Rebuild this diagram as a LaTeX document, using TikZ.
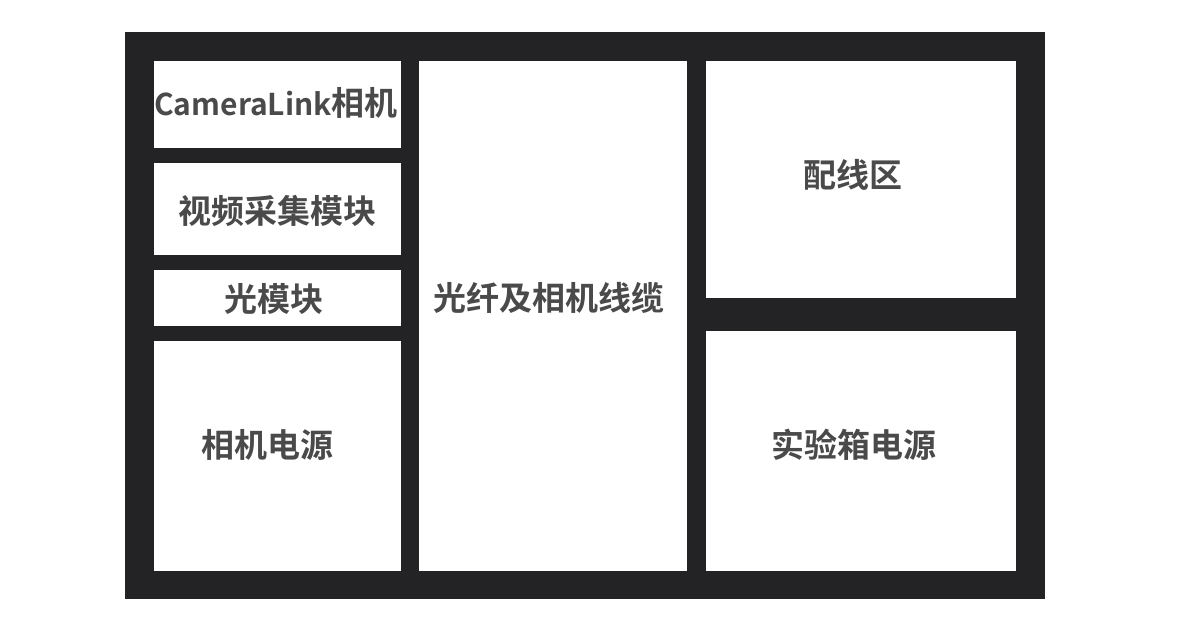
\documentclass[tikz,border=0pt]{standalone}
\usepackage{fontspec}
\newfontfamily\cjk{Noto Sans CJK SC}[BoldFont={* Bold}]
\definecolor{frame}{HTML}{232326}
\definecolor{txt}{HTML}{4A4A4A}
\begin{document}
\begin{tikzpicture}[x=1pt,y=-1pt,
  cell/.style={fill=white,draw=none},
  lbl/.style={font=\cjk\bfseries\fontsize{33}{38}\selectfont,text=txt,inner sep=0pt,anchor=center}]
\useasboundingbox (0,0) rectangle (1196,631);
\fill[white] (0,0) rectangle (1196,631);
\fill[frame] (125,32) rectangle (1044.5,599);
% left column
\fill[cell] (154,61) rectangle (400.5,148);
\fill[cell] (154,163.5) rectangle (400.5,255);
\fill[cell] (154,270) rectangle (400.5,325.5);
\fill[cell] (154,341) rectangle (400.5,570.5);
% middle
\fill[cell] (419,61) rectangle (686.5,570.5);
% right
\fill[cell] (706,61) rectangle (1015.5,297.5);
\fill[cell] (706,331) rectangle (1015.5,570.5);
\node[lbl] (cam) at (276,103) {{\fontsize{30}{36}\selectfont CameraLink}相机};
\node[lbl] (vid) at (277.5,211) {视频采集模块};
\node[lbl] (opt) at (274,299) {光模块};
\node[lbl] (cpw) at (267,445) {相机电源};
\node[lbl] (cab) at (549,298) {光纤及相机线缆};
\node[lbl] (wir) at (853,175) {配线区};
\node[lbl] (box) at (853.5,445) {实验箱电源};
\end{tikzpicture}
\end{document}
